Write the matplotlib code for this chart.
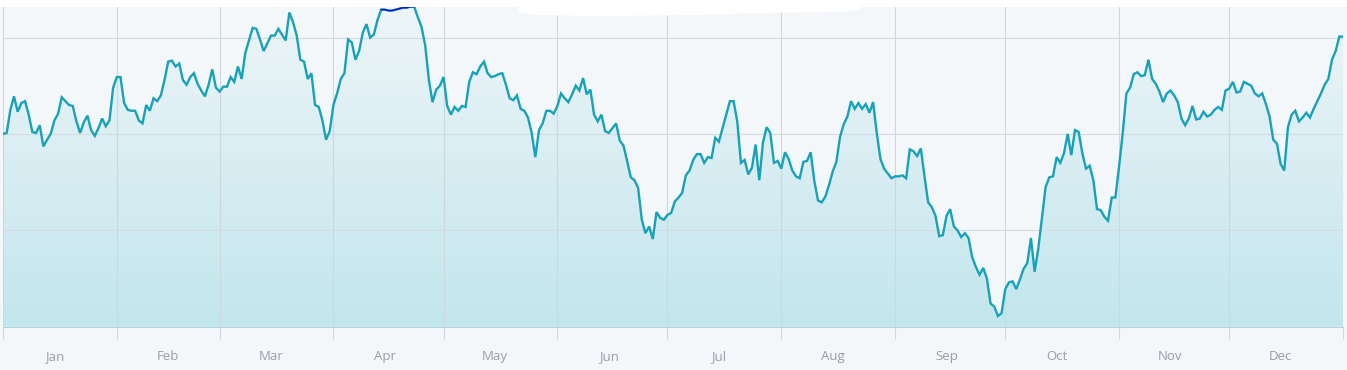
import matplotlib
matplotlib.use("Agg")
import matplotlib.pyplot as plt
import numpy as np
from matplotlib.colors import LinearSegmentedColormap
from matplotlib.patches import Polygon

plt.rcParams["font.family"] = ["Open Sans", "DejaVu Sans"]

# daily values, one list per month
jan = [200, 201, 225, 239, 223, 232, 234, 220, 202, 201, 209, 187, 194, 200, 214, 221,
       238, 234, 230, 229, 213, 201, 212, 219, 204, 198, 206, 216, 208, 214, 248]
feb = [259, 259, 232, 225, 224, 224, 214, 211, 230, 224, 237, 234, 240, 256, 275, 276,
       270, 273, 256, 251, 259, 263, 252, 245, 239, 251, 267, 248]
mar = [244, 249, 249, 259, 254, 270, 257, 284, 297, 310, 309, 298, 286, 294, 302, 302,
       309, 303, 297, 326, 316, 302, 277, 275, 257, 263, 230, 228, 214, 194, 203]
apr = [230, 242, 257, 263, 298, 295, 277, 286, 305, 314, 300, 303, 318, 329, 329, 328,
       328, 329, 330, 331, 331, 332, 332, 321, 311, 292, 256, 233, 246, 250]
may = [259, 229, 220, 228, 224, 229, 228, 254, 264, 262, 270, 275, 263, 259, 260, 262,
       263, 251, 237, 235, 240, 226, 224, 217, 201, 176, 204, 211, 224, 224, 221]
jun = [229, 242, 237, 233, 241, 250, 245, 258, 241, 246, 220, 213, 220, 203, 201, 206,
       211, 193, 188, 172, 155, 152, 144, 111, 97, 104, 91, 119, 113, 111]
jul = [116, 118, 130, 134, 139, 157, 162, 173, 179, 179, 170, 176, 175, 196, 192, 206,
       220, 234, 234, 213, 170, 173, 158, 165, 189, 152, 191, 207, 201, 170, 172]
aug = [164, 181, 174, 162, 156, 154, 171, 172, 181, 151, 131, 129, 135, 147, 161, 171,
       197, 210, 218, 234, 226, 232, 226, 231, 222, 233, 201, 174, 164, 159, 154]
sep = [156, 156, 157, 154, 184, 182, 177, 185, 156, 129, 124, 115, 94, 95, 115, 122,
       104, 100, 93, 97, 92, 72, 62, 54, 61, 50, 24, 21, 11, 14]
oct_ = [39, 46, 47, 39, 49, 60, 66, 92, 57, 81, 113, 145, 155, 156, 176, 170,
        180, 200, 178, 204, 202, 180, 164, 167, 152, 122, 121, 114, 110, 134, 134]
nov = [166, 201, 242, 248, 262, 264, 260, 261, 277, 257, 252, 244, 233, 242, 245, 240,
       233, 216, 209, 216, 229, 215, 216, 223, 218, 220, 225, 228, 225, 245]
dec = [247, 254, 243, 244, 254, 252, 250, 242, 239, 242, 231, 218, 194, 190, 169, 162,
       207, 220, 224, 213, 217, 222, 217, 226, 234, 242, 251, 257, 277, 286, 301, 301]

month_names = ["Jan", "Feb", "Mar", "Apr", "May", "Jun",
               "Jul", "Aug", "Sep", "Oct", "Nov", "Dec"]
month_starts = [0, 31, 59, 90, 120, 151, 181, 212, 243, 273, 304, 334, 365]

values = np.array(jan + feb + mar + apr + may + jun + jul + aug + sep + oct_ + nov + dec)
days = np.arange(len(values))

fig = plt.figure(figsize=(13.47, 3.70), dpi=100, facecolor="#f4f7fa")
# white strip along the top edge
fig.patches.append(plt.Rectangle((0, 0.982), 1, 0.02, transform=fig.transFigure,
                                 facecolor="white", edgecolor="none", zorder=0))
ax = fig.add_axes([3 / 1347, 43.3 / 370, 1340 / 1347, 320 / 370])
ax.set_facecolor("#f4f7fa")
ymax = 332
ax.set_xlim(0, 365)
ax.set_ylim(0, ymax)

# gradient area under the line
area = ax.fill_between(days, values, 0, color="none", lw=0)
cmap = LinearSegmentedColormap.from_list("g", ["#c2e6ed", "#eef5f8"])
grad = np.linspace(0, 1, 256).reshape(-1, 1)
im = ax.imshow(grad, extent=[0, 365, 0, ymax], origin="lower", aspect="auto",
               cmap=cmap, zorder=1)
im.set_clip_path(area.get_paths()[0], transform=ax.transData)

ax.plot(days, values, color="#17a2b8", lw=1.7, zorder=4, solid_joinstyle="miter")
# the part pinned to the top edge shows up dark blue
top = slice(103, 113)
ax.plot(days[top], values[top], color="#1414c8", lw=1.1, zorder=5)

# grid
for y in [100, 200, 300]:
    ax.axhline(y, color="#d3dce2", lw=0.8, zorder=2)
for d in month_starts:
    ax.axvline(d, color="#cdd8de", lw=0.8, zorder=2)

for s in ["top", "left", "right"]:
    ax.spines[s].set_visible(False)
ax.spines["bottom"].set_color("#b5d3da")
ax.spines["bottom"].set_linewidth(0.8)

ax.set_yticks([])
ax.set_xticks(month_starts)
ax.set_xticklabels([])
ax.tick_params(axis="x", which="major", length=8.5, width=0.8, color="#d0d8de")
ax.set_xticks([s + 14 for s in month_starts[:-1]], minor=True)
ax.set_xticklabels(month_names, minor=True)
ax.tick_params(axis="x", which="minor", length=0, pad=17, labelsize=9.5,
               labelcolor="#9a9ea3")

# white smudge over the top edge
smudge = Polygon([(516, 0), (860, 0), (860, 10), (840, 12), (760, 13), (700, 15),
                  (600, 16), (540, 15), (520, 13)], closed=True,
                 transform=fig.transFigure, facecolor="white", edgecolor="none",
                 zorder=10)
smudge.set_xy(np.array([[x / 1347, 1 - y / 370] for x, y in smudge.get_xy()]))
fig.patches.append(smudge)

plt.savefig("out.png", dpi=100, facecolor=fig.get_facecolor())
